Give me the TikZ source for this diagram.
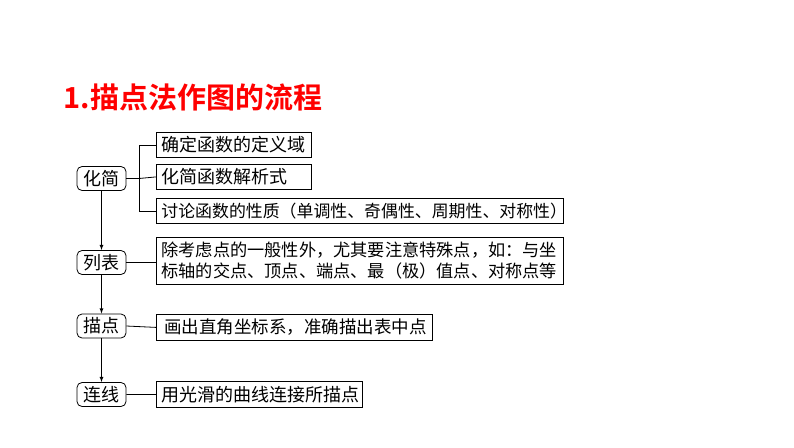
\documentclass[tikz,border=0pt]{standalone}
\usepackage{fontspec}
\setmainfont{Noto Sans CJK SC}
\newfontfamily\titlefont{Noto Sans CJK SC Bold}
\begin{document}
\begin{tikzpicture}[x=1pt,y=-1pt,
  stage/.style={draw,thick,rounded corners=5pt,minimum width=49pt,minimum height=24pt,inner sep=0pt,font=\fontsize{18}{20}\selectfont},
  desc/.style={draw,thick,anchor=north west,inner xsep=5pt,inner ysep=0pt,align=left,font=\fontsize{18}{22}\selectfont},
  link/.style={thick},
  arr/.style={thick,-latex}]
\useasboundingbox (0,0) rectangle (794,447);
\node[anchor=west,text=red,font=\titlefont\fontsize{29}{32}\selectfont] (t) at (60,97) {1.描点法作图的流程};
\node[stage] (a) at (101.5,178.5) {化简};
\node[stage] (b) at (101.5,262.5) {列表};
\node[stage] (c) at (101.5,326) {描点};
\node[stage] (d) at (101.5,394.5) {连线};
\node[desc,minimum width=155pt,minimum height=25pt,text width=145pt] (a1) at (156,132) {确定函数的定义域};
\node[desc,minimum width=155pt,minimum height=25pt,text width=145pt] (a2) at (156,164) {化简函数解析式};
\node[desc,minimum width=407pt,minimum height=25pt,text width=397pt,font=\fontsize{16.9}{22}\selectfont] (a3) at (156,198) {讨论函数的性质（单调性、奇偶性、周期性、对称性）};
\node[desc,minimum width=407pt,minimum height=47pt,text width=397pt,font=\fontsize{17.2}{21}\selectfont] (b1) at (156,237) {除考虑点的一般性外，尤其要注意特殊点，如：与坐\\标轴的交点、顶点、端点、最（极）值点、对称点等};
\node[desc,minimum width=276pt,minimum height=26pt,text width=266pt,font=\fontsize{17.5}{22}\selectfont] (c1) at (156,314) {\,画出直角坐标系，准确描出表中点};
\node[desc,minimum width=206pt,minimum height=26pt,text width=196pt] (d1) at (156,381) {用光滑的曲线连接所描点};
\coordinate (br) at (139,178.5);
\draw[link] (a.east) -- (br);
\draw[link] (br) |- (a1.west);
\draw[link] (br) |- (a3.west);
\draw[link] (br) -- (a2.west);
\draw[link] (b.east) -- (b.east -| b1.west);
\draw[link] (c.east) -- (c1.west);
\draw[link] (d.east) -- (d1.west);
\draw[arr] (a) -- (b);
\draw[arr] (b) -- (c);
\draw[arr] (c) -- (d);
\end{tikzpicture}
\end{document}
